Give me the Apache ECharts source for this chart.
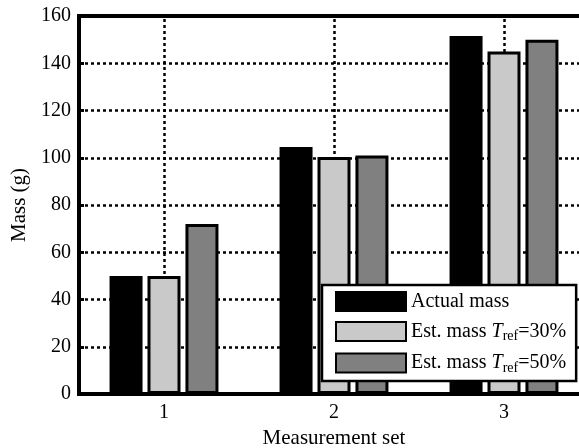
<!DOCTYPE html>
<html>
<head>
<meta charset="utf-8">
<script src="https://cdn.jsdelivr.net/npm/echarts@6/dist/echarts.min.js"></script>
<style>
  html, body { margin: 0; padding: 0; background: #fff; overflow: hidden; }
  #chart { width: 600px; height: 448px; }
</style>
</head>
<body>
<div id="chart"></div>
<script>
// values
var sets = ['1', '2', '3'];
var actualMass = [50, 104.5, 151.5];
var est30 = [50, 100.3, 145];
var est50 = [72, 101, 150];
var yTicks = [0, 20, 40, 60, 80, 100, 120, 140, 160];

var serif = '"Liberation Serif", "DejaVu Serif", serif';
var myChart = echarts.init(document.getElementById('chart'));

var legendNames = ['Actual mass', 'Est. mass T30', 'Est. mass T50'];
var legendLabels = {
  'Actual mass': '{n|Actual mass}',
  'Est. mass T30': '{n|Est. mass }{i|T}{s|ref}{n|=30%}',
  'Est. mass T50': '{n|Est. mass }{i|T}{s|ref}{n|=50%}'
};

function barSeries(name, data, color) {
  return {
    name: name,
    type: 'bar',
    data: data,
    barWidth: 33,
    barGap: '15%',
    itemStyle: { color: color, borderColor: '#000', borderWidth: 3 }
  };
}

var option = {
  animation: false,
  backgroundColor: '#fff',
  textStyle: { fontFamily: serif },
  grid: {
    left: 79, top: 16, width: 510, bottom: 54,
    outerBoundsMode: 'none',
    containLabel: false,
    show: true, borderColor: '#000', borderWidth: 4, backgroundColor: 'transparent'
  },
  legend: {
    data: legendNames,
    orient: 'vertical',
    left: 322, top: 285,
    padding: [6, 10, 6, 13],
    itemWidth: 70, itemHeight: 19, itemGap: 9,
    backgroundColor: '#fff',
    borderColor: '#000', borderWidth: 2.5, borderRadius: 0,
    icon: 'rect',
    formatter: function (name) { return legendLabels[name]; },
    textStyle: {
      fontFamily: serif, color: '#000', fontSize: 20,
      rich: {
        n: { fontFamily: serif, fontSize: 20, color: '#000' },
        i: { fontFamily: serif, fontSize: 20, fontStyle: 'italic', color: '#000' },
        s: { fontFamily: serif, fontSize: 14, color: '#000', padding: [10, 0, 0, 0] }
      }
    }
  },
  xAxis: {
    type: 'category',
    data: sets,
    name: 'Measurement set',
    nameLocation: 'middle',
    nameGap: 33,
    nameTextStyle: { fontFamily: serif, fontSize: 21, color: '#000' },
    axisLine: { lineStyle: { color: '#000', width: 4 } },
    axisTick: { show: false },
    axisLabel: { fontFamily: serif, fontSize: 20, color: '#000', margin: 9 },
    splitLine: { show: false }
  },
  yAxis: {
    type: 'value',
    min: yTicks[0],
    max: yTicks[yTicks.length - 1],
    interval: 20,
    name: 'Mass (g)',
    nameLocation: 'middle',
    nameGap: 46,
    nameTextStyle: { fontFamily: serif, fontSize: 21, color: '#000' },
    axisLine: { show: true, lineStyle: { color: '#000', width: 4 } },
    axisTick: { show: true, inside: true, length: 5, lineStyle: { color: '#000', width: 3 } },
    axisLabel: { fontFamily: serif, fontSize: 20, color: '#000', margin: 8 },
    splitLine: { show: true, lineStyle: { color: '#000', width: 2.5, type: [3, 3] } }
  },
  series: [
    barSeries('Actual mass', actualMass, '#000'),
    barSeries('Est. mass T30', est30, '#c9c9c9'),
    barSeries('Est. mass T50', est50, '#808080'),
    {
      // vertical dotted grid at the category centres
      name: 'vgrid',
      type: 'line',
      data: [],
      silent: true,
      z: 1,
      markLine: {
        silent: true,
        symbol: 'none',
        z: 1,
        label: { show: false },
        lineStyle: { color: '#000', width: 2.5, type: [3, 3] },
        data: sets.map(function (s) { return { xAxis: s }; })
      }
    }
  ]
};

myChart.setOption(option);
</script>
</body>
</html>
